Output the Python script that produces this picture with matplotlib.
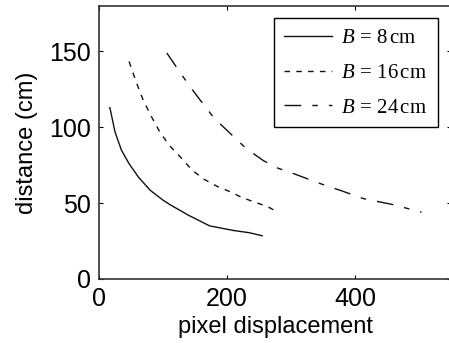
import matplotlib
matplotlib.use("Agg")
import matplotlib.pyplot as plt

# values
x_b8 = [17, 25, 35, 47, 62, 80, 100, 111, 140, 173, 210, 235, 255]
y_b8 = [113, 97, 85, 76, 67, 58.5, 52, 49, 42, 35, 32, 30.5, 28.5]

x_b16 = [47, 58, 69, 82, 95, 110, 127, 145, 163, 185, 205, 222, 241, 262, 280]
y_b16 = [143.4, 130, 118, 107, 97, 88, 80.5, 72, 66, 61, 57.5, 54, 51, 48, 44]

x_b24 = [106, 127, 142, 158, 180, 205, 230, 257, 280, 304, 345, 380, 413, 460, 504]
y_b24 = [149, 136, 127, 118, 106, 96, 86, 78, 73, 69.5, 63, 58, 53, 49, 44]

labels = [r"$B\,=\,8\,\mathrm{cm}$", r"$B\,=\,16\,\mathrm{cm}$", r"$B\,=\,24\,\mathrm{cm}$"]

plt.rcParams["font.family"] = ["Liberation Sans", "DejaVu Sans"]
plt.rcParams["mathtext.fontset"] = "custom"
plt.rcParams["mathtext.rm"] = "Liberation Serif"
plt.rcParams["mathtext.it"] = "Liberation Serif:italic"

fig = plt.figure(figsize=(4.49, 3.43), dpi=100)
ax = fig.add_axes([99 / 449, 1 - 279 / 343, 352 / 449, 273 / 343])

ax.plot(x_b8, y_b8, color="#111111", lw=1.0, label=labels[0])
ax.plot(x_b16, y_b16, color="#111111", lw=1.0, dashes=(4, 4.5), label=labels[1])
ax.plot(x_b24, y_b24, color="#111111", lw=1.0, dashes=(12, 8, 4, 8), label=labels[2])

ax.set_xlim(0, 550)
ax.set_ylim(0, 180)
ax.set_xticks([0, 200, 400])
ax.set_yticks([0, 50, 100, 150])
ax.tick_params(direction="in", length=3, width=0.8, top=True, right=True,
               labelsize=18)
ax.tick_params(axis="x", pad=6)
ax.tick_params(axis="y", pad=6)
for s in ax.spines.values():
    s.set_linewidth(1.2)
    s.set_color("#333333")

ax.set_xlabel("pixel displacement", fontsize=17, labelpad=3)
ax.set_ylabel("distance (cm)", fontsize=17, labelpad=8)

leg = ax.legend(loc="upper right",
                bbox_to_anchor=((438 - 99) / 352, (279 - 18) / 273),
                fontsize=15, frameon=True, fancybox=False, framealpha=1,
                edgecolor="black", handlelength=2.3, borderpad=0.5,
                labelspacing=0.75, handletextpad=0.45, borderaxespad=0)
leg.get_frame().set_linewidth(1.0)

fig.savefig("out.png", dpi=100)
